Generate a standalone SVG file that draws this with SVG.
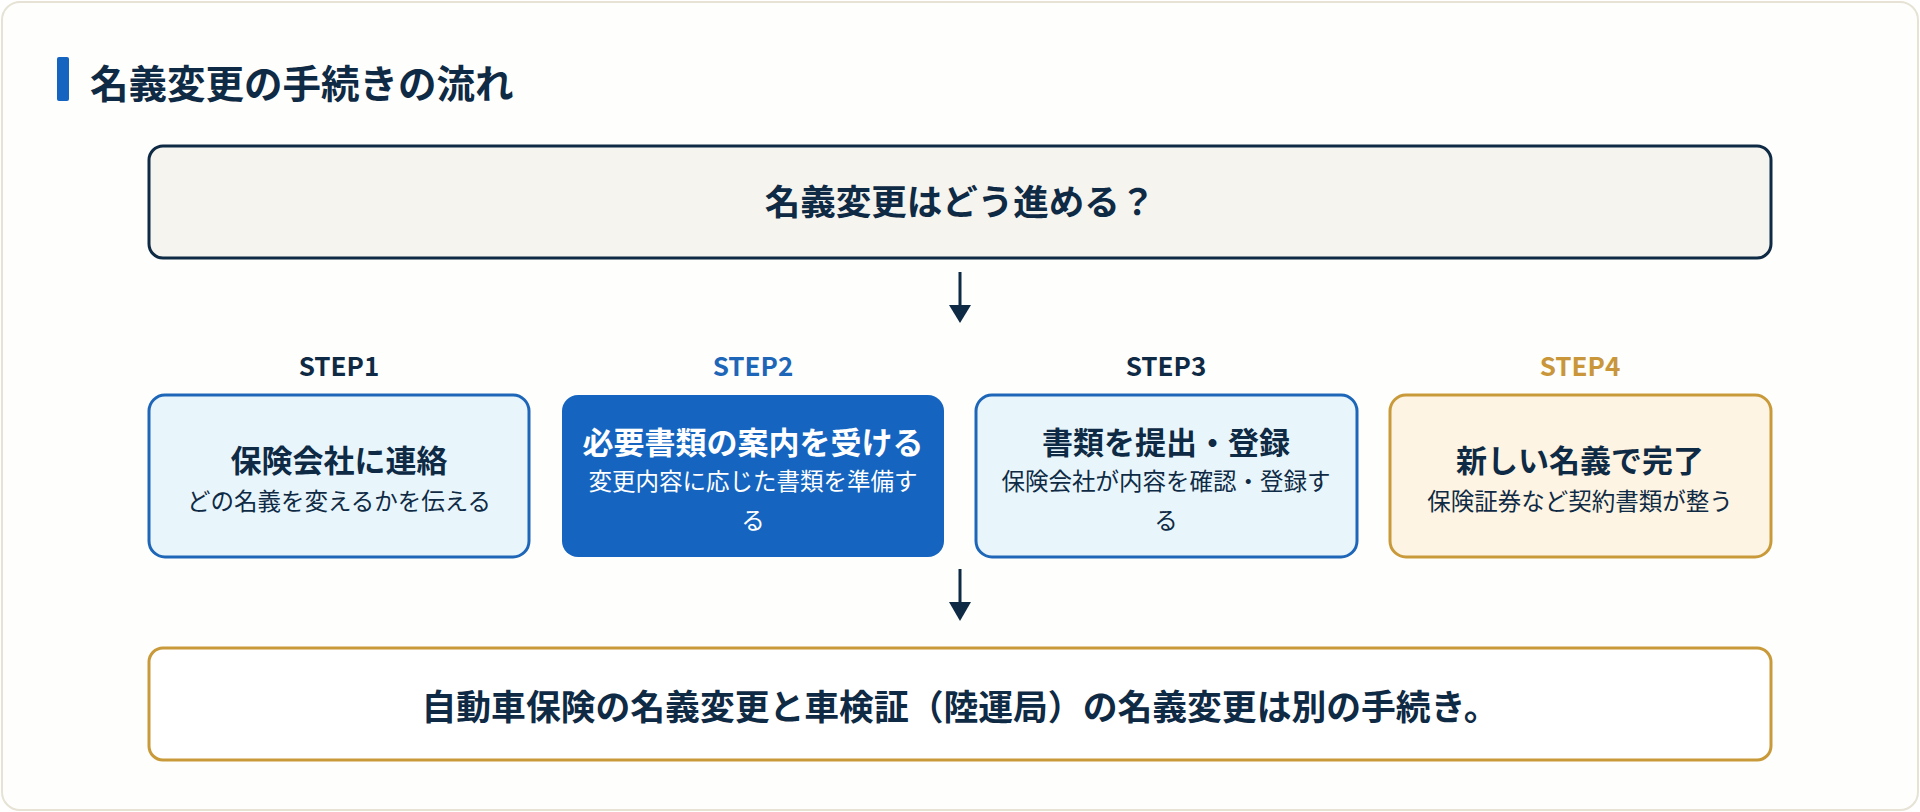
<svg xmlns="http://www.w3.org/2000/svg" width="1920" height="812" viewBox="0 0 1920 812">
<defs>
<style>
text{font-family:"Noto Sans CJK JP","Noto Sans",sans-serif;text-anchor:middle;font-weight:700}
.step{font-size:26px;fill:#0f2a44}
.t{font-size:31px;fill:#0f2a44}
.s{font-size:23.5px;font-weight:400;fill:#0f2a44}
.w{fill:#ffffff}
.conn line{stroke:#0f2a44;stroke-width:3}
</style>
</defs>
<rect x="0" y="0" width="1920" height="812" fill="#ffffff"/>
<rect x="2" y="2" width="1916" height="808" rx="18" fill="#fefefd" stroke="#e6e2d4" stroke-width="2"/>
<g id="title">
<rect x="57" y="57" width="12" height="44" rx="2" fill="#1565c0"/>
<text x="90" y="98" style="text-anchor:start;font-size:38.5px;fill:#0f2a44">名義変更の手続きの流れ</text>
</g>
<g id="q">
<rect x="149" y="146" width="1622" height="112" rx="14" fill="#f5f4ef" stroke="#0f2a44" stroke-width="3"/>
<text x="960" y="215" class="t" style="font-size:35.5px">名義変更はどう進める？</text>
</g>
<g class="conn" id="connectors">
<line x1="960" y1="272" x2="960" y2="312"/>
<path d="M949,305 L971,305 L960,323 Z" fill="#0f2a44"/>
<line x1="960" y1="569" x2="960" y2="609"/>
<path d="M949,602 L971,602 L960,621 Z" fill="#0f2a44"/>
</g>
<g id="step1">
<text x="339" y="376" class="step">STEP1</text>
<rect x="149" y="395" width="380" height="162" rx="16" fill="#e8f6fc" stroke="#1e66b8" stroke-width="3"/>
<text x="339" y="472" class="t">保険会社に連絡</text>
<text x="339" y="510" class="s">どの名義を変えるかを伝える</text>
</g>
<g id="step2">
<text x="753" y="376" class="step" style="fill:#1e66b8">STEP2</text>
<rect x="562" y="395" width="382" height="162" rx="16" fill="#1565c0"/>
<text x="753" y="454" class="t w">必要書類の案内を受ける</text>
<text x="753" y="490" class="s w">変更内容に応じた書類を準備す</text>
<text x="753" y="529" class="s w">る</text>
</g>
<g id="step3">
<text x="1166" y="376" class="step">STEP3</text>
<rect x="976" y="395" width="381" height="162" rx="16" fill="#e8f6fc" stroke="#1e66b8" stroke-width="3"/>
<text x="1166" y="454" class="t">書類を提出・登録</text>
<text x="1166" y="490" class="s">保険会社が内容を確認・登録す</text>
<text x="1166" y="529" class="s">る</text>
</g>
<g id="step4">
<text x="1580" y="376" class="step" style="fill:#c9963a">STEP4</text>
<rect x="1390" y="395" width="381" height="162" rx="16" fill="#fdf4e3" stroke="#c99a3a" stroke-width="3"/>
<text x="1580" y="472" class="t">新しい名義で完了</text>
<text x="1580" y="510" class="s">保険証券など契約書類が整う</text>
</g>
<g id="note">
<rect x="149" y="648" width="1622" height="112" rx="14" fill="#ffffff" stroke="#c99a3a" stroke-width="3"/>
<text x="960" y="720" class="t" style="font-size:34.8px">自動車保険の名義変更と車検証（陸運局）の名義変更は別の手続き。</text>
</g>
</svg>
